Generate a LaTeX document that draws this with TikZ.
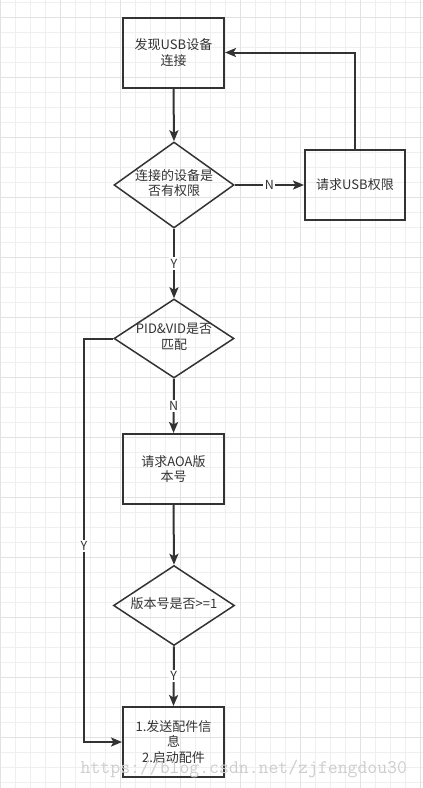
\documentclass[tikz,border=0pt]{standalone}
\usepackage{fontspec}
\newfontfamily\cjk{Noto Sans CJK SC}
\usetikzlibrary{shapes.geometric,arrows.meta}
\definecolor{ink}{HTML}{333333}
\definecolor{gridminor}{HTML}{EFEFEF}
\definecolor{gridmajor}{HTML}{E2E2E2}
\definecolor{wm}{HTML}{CDCDCD}
\newcommand\dtext[1]{\makebox[0pt]{\begin{tabular}{@{}c@{}}#1\end{tabular}}}
\tikzset{
  boxnode/.style={draw=ink, line width=2pt, rectangle, minimum width=101pt, minimum height=70pt,
    inner sep=0pt, text=ink, font=\cjk\fontsize{13}{15.5}\selectfont, align=center},
  decision/.style={draw=ink, line width=1.5pt, diamond, inner sep=0pt,
    text=ink, font=\cjk\fontsize{13}{15.5}\selectfont},
  flow/.style={draw=ink, line width=2pt, -{Stealth[length=11pt,width=9pt,inset=2.5pt]}},
  edgelabel/.style={fill=white, inner sep=1.5pt, text=ink, font=\cjk\fontsize{12.5}{14}\selectfont},
}
\begin{document}
\begin{tikzpicture}[x=1pt,y=-1pt]
\useasboundingbox (0,0) rectangle (423,788);
\fill[white] (0,0) rectangle (423,788);
% grid
\foreach \gx in {0,15,...,420} {\draw[gridminor, line width=1pt] (\gx+0.5,0) -- (\gx+0.5,788);}
\foreach \gy in {2,17,...,787} {\draw[gridminor, line width=1pt] (0,\gy+0.5) -- (423,\gy+0.5);}
\foreach \gx in {0,60,...,420} {\draw[gridmajor, line width=1pt] (\gx+0.5,0) -- (\gx+0.5,788);}
\foreach \gy in {17,77,...,787} {\draw[gridmajor, line width=1pt] (0,\gy+0.5) -- (423,\gy+0.5);}

% nodes
\node[boxnode] (b1) at (173.5,52.5) {发现USB设备\\连接};
\node[decision, minimum width=120pt, minimum height=86pt] (d1) at (174,185) {\dtext{连接的设备是\\否有权限}};
\node[boxnode, minimum width=100pt] (b2) at (355,185) {请求USB权限};
\node[decision, minimum width=120pt, minimum height=79pt] (d2) at (174,338.5) {\dtext{PID\&VID是否\\匹配}};
\node[boxnode] (b3) at (173.5,469) {请求AOA版\\本号};
\node[decision, minimum width=121pt, minimum height=80pt] (d3) at (174,605.5) {\dtext{版本号是否>=1}};
\node[boxnode] (b4) at (173.5,742) {1.发送配件信\\息\\2.启动配件};

% connectors
\draw[flow] (b1.south) -- (d1.north);
\draw[flow] (d1.east) -- node[edgelabel]{N} (b2.west);
\draw[flow] (b2.north) |- (b1.east);
\draw[flow] (d1.south) -- node[edgelabel]{Y} (d2.north);
\draw[flow] (d2.south) -- node[edgelabel, pos=0.5]{N} (b3.north);
\draw[flow] (b3.south) -- (d3.north);
\draw[flow] (d3.south) -- node[edgelabel]{Y} (b4.north);
\coordinate (lt) at (84,338.5);
\coordinate (lb) at (84,742);
\draw[flow] (d2.west) -- (lt) -- node[edgelabel, pos=0.515]{Y} (lb) -- (b4.west);

% watermark
\node[anchor=base west, inner sep=0pt, text=wm, font=\ttfamily\fontsize{19.2}{20}\selectfont] (wmk) at (80.5,773) {https://blog.csdn.net/zjfengdou30};
\end{tikzpicture}
\end{document}
